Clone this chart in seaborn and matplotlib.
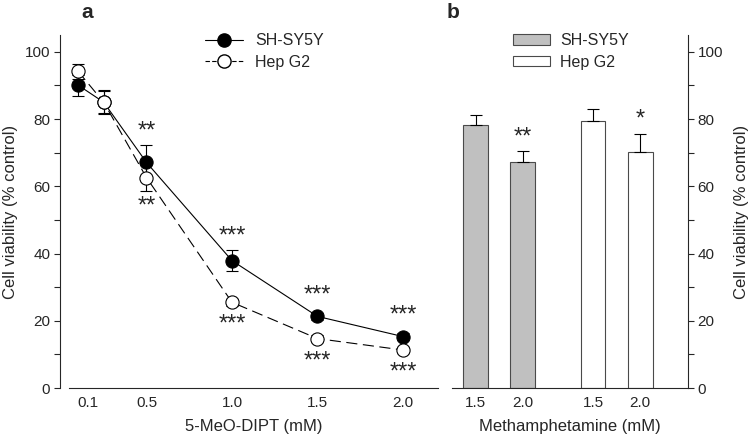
import numpy as np
import pandas as pd
import matplotlib
matplotlib.use("Agg")
import matplotlib.pyplot as plt
import seaborn as sns
from matplotlib.lines import Line2D
from matplotlib.patches import Patch

# Panel a: 5-MeO-DIPT dose response
doses = [0.1, 0.25, 0.5, 1.0, 1.5, 2.0]
sh_mean = [90.1, 85.0, 67.1, 37.9, 21.3, 15.3]
sh_sd = [3.1, 3.2, 5.1, 3.0, 1.0, 1.0]
hep_mean = [94.2, 85.0, 62.6, 25.5, 14.7, 11.3]
hep_sd = [2.2, 3.6, 3.9, 1.0, 1.0, 1.0]
sh_stars = ["", "", "**", "***", "***", "***"]
hep_stars = ["", "", "**", "***", "***", "***"]
dipt_ticklabels = ["0.1", "0.5", "1.0", "1.5", "2.0"]

# Panel b: methamphetamine
meth_doses = ["1.5", "2.0"]
sh_meth = [78.3, 67.3]
sh_meth_sd = [3.0, 3.2]
hep_meth = [79.3, 70.3]
hep_meth_sd = [3.6, 5.3]
sh_meth_stars = ["", "**"]
hep_meth_stars = ["", "*"]
cells = ["SH-SY5Y", "Hep G2"]

sns.set_style("ticks")
plt.rcParams["font.family"] = ["Liberation Sans", "DejaVu Sans"]
plt.rcParams["font.size"] = 11
plt.rcParams["axes.linewidth"] = 0.8

fig = plt.figure(figsize=(7.5, 4.4), dpi=100)
axa = fig.add_axes([69 / 750, 52 / 440, 369 / 750, 353 / 440])
axb = fig.add_axes([452 / 750, 52 / 440, 236 / 750, 353 / 440])

# ---- panel a
df_a = pd.DataFrame({
    "dose": doses * 2,
    "viability": sh_mean + hep_mean,
    "cell": [cells[0]] * len(doses) + [cells[1]] * len(doses),
})
sns.lineplot(data=df_a, x="dose", y="viability", hue="cell", style="cell",
             palette={cells[0]: "black", cells[1]: "black"},
             dashes={cells[0]: "", cells[1]: (10, 5)}, lw=0.8,
             legend=False, ax=axa, zorder=2)
axa.errorbar(doses, sh_mean, yerr=sh_sd, fmt="none", ecolor="black",
             elinewidth=0.8, capsize=4, capthick=0.8, zorder=3)
axa.errorbar(doses, hep_mean, yerr=hep_sd, fmt="none", ecolor="black",
             elinewidth=0.8, capsize=4, capthick=0.8, zorder=3)
axa.plot(doses, sh_mean, "o", ms=9.5, mfc="black", mec="black", mew=0.8, zorder=4)
axa.plot(doses, hep_mean, "o", ms=9.5, mfc="white", mec="black", mew=0.8, zorder=5)

star_fs = 17
for x, m, s, t in zip(doses, sh_mean, sh_sd, sh_stars):
    if t:
        axa.annotate(t, (x, max(m + s, m + 2)), xytext=(0, 10), textcoords="offset points",
                     ha="center", va="center", fontsize=star_fs)
for x, m, s, t in zip(doses, hep_mean, hep_sd, hep_stars):
    if t:
        axa.annotate(t, (x, min(m - s, m - 2)), xytext=(0, -11.5), textcoords="offset points",
                     ha="center", va="center", fontsize=star_fs)

axa.set_xlim(0.047, 2.205)
axa.set_ylim(0, 105)
axa.set_xticks([0.16, 0.5, 1.0, 1.5, 2.0])
axa.set_xticklabels(dipt_ticklabels)
axa.set_yticks(np.arange(0, 101, 20))
axa.set_yticks(np.arange(10, 100, 20), minor=True)
axa.tick_params(axis="x", length=0, pad=6)
axa.tick_params(axis="y", which="both", length=4, width=0.8, pad=3)
sns.despine(ax=axa)
axa.spines["left"].set_position(("outward", 6.5))
axa.set_xlabel("5-MeO-DIPT (mM)", labelpad=6, fontsize=12)
axa.set_ylabel("Cell viability (% control)", labelpad=5, fontsize=12)
axa.text(0.05, 1 + 22 / 353, "a", transform=axa.transAxes, fontsize=15, fontweight="bold",
         ha="center", va="center")

leg_a = [
    Line2D([], [], color="black", lw=0.8, marker="o", ms=9.5, mfc="black", mec="black"),
    Line2D([], [], color="black", lw=0.8, ls=(0, (4, 2)), marker="o", ms=9.5,
           mfc="white", mec="black"),
]
axa.legend(leg_a, cells, loc="upper left", bbox_to_anchor=(0.369, 1.005), frameon=False,
           fontsize=11.5, handlelength=2.4, borderpad=0, borderaxespad=0,
           labelspacing=0.4, handletextpad=0.75)

# ---- panel b
pos = [g * 2.5 + i for g in range(2) for i in range(len(meth_doses))]
df_b = pd.DataFrame({
    "pos": pos,
    "viability": sh_meth + hep_meth,
    "cell": [cells[0]] * 2 + [cells[1]] * 2,
})
sns.barplot(data=df_b, x="pos", y="viability", hue="cell", native_scale=True,
            palette={cells[0]: "#c0c0c0", cells[1]: "white"}, dodge=False,
            width=0.53, errorbar=None, edgecolor="#4a4a4a", linewidth=0.8,
            legend=False, ax=axb)
axb.errorbar(pos, sh_meth + hep_meth,
             yerr=[np.zeros(4), np.array(sh_meth_sd + hep_meth_sd)],
             fmt="none", ecolor="black", elinewidth=0.8, capsize=4.3, capthick=0.8)
for x, m, s, t in zip(pos, sh_meth + hep_meth, sh_meth_sd + hep_meth_sd,
                      sh_meth_stars + hep_meth_stars):
    if t:
        axb.annotate(t, (x, m + s), xytext=(0, 10), textcoords="offset points",
                     ha="center", va="center", fontsize=star_fs)

axb.set_xlim(-0.5, 4.52)
axb.set_ylim(0, 105)
axb.set_xticks(pos)
axb.set_xticklabels(meth_doses * 2)
axb.set_yticks(np.arange(0, 101, 20))
axb.set_yticks(np.arange(10, 100, 20), minor=True)
axb.yaxis.tick_right()
axb.yaxis.set_label_position("right")
axb.tick_params(axis="x", length=0, pad=6)
axb.tick_params(axis="y", which="both", length=4, width=0.8, pad=3)
for side in ["top", "left"]:
    axb.spines[side].set_visible(False)
axb.set_xlabel("Methamphetamine (mM)", labelpad=6, fontsize=12)
axb.set_ylabel("Cell viability (% control)", labelpad=8, fontsize=12)
axb.text(0.005, 1 + 22 / 353, "b", transform=axb.transAxes, fontsize=15, fontweight="bold",
         ha="center", va="center")

leg_b = [Patch(facecolor="#c0c0c0", edgecolor="#4a4a4a", lw=0.8),
         Patch(facecolor="white", edgecolor="#4a4a4a", lw=0.8)]
axb.legend(leg_b, cells, loc="upper left", bbox_to_anchor=(0.258, 1.005), frameon=False,
           fontsize=11.5, handlelength=2.35, handleheight=0.65, borderpad=0,
           borderaxespad=0, labelspacing=0.4, handletextpad=0.6)

fig.savefig("out.png", dpi=100)
